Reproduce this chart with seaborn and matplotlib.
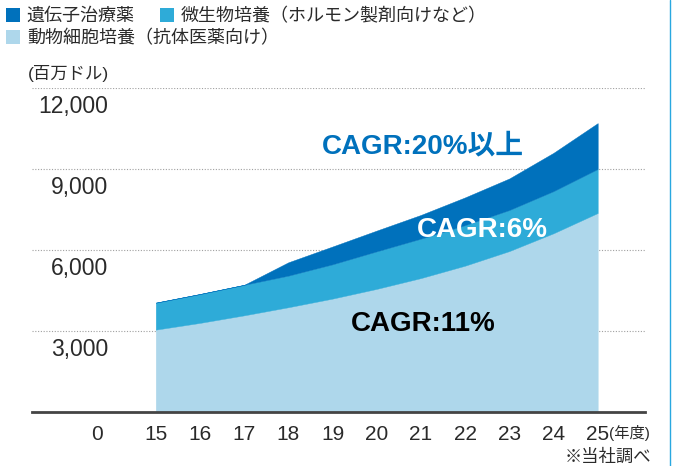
import matplotlib
matplotlib.use('Agg')
import matplotlib.pyplot as plt
import seaborn as sns
import pandas as pd
from matplotlib.transforms import ScaledTranslation
from matplotlib.patches import Patch
from matplotlib.lines import Line2D

# ---- data ----
years = [15, 16, 17, 18, 19, 20, 21, 22, 23, 24, 25]
animal_cell = [3050, 3300, 3580, 3880, 4200, 4560, 4960, 5420, 5960, 6620, 7370]
microbial = [1000, 1070, 1130, 1170, 1270, 1390, 1460, 1500, 1520, 1560, 1630]
gene_therapy = [0, 0, 0, 495, 660, 770, 880, 1030, 1170, 1420, 1700]
series_labels = ['遺伝子治療薬', '微生物培養（ホルモン製剤向けなど）', '動物細胞培養（抗体医薬向け）']
ytick_values = [3000, 6000, 9000, 12000]
ytick_labels = ['3,000', '6,000', '9,000', '12,000']
zero_label_pos = 13.67
xtick_labels = ['0'] + [str(y) for y in years]
cagr_labels = ['CAGR:20%以上', 'CAGR:6%', 'CAGR:11%']
unit_label = '(百万ドル)'
year_unit = '(年度)'
source_note = '※当社調べ'

c_dark = '#0071BC'
c_mid = '#2EABD8'
c_light = '#AED7EB'

sns.set_theme(style='white')
plt.rcParams['font.family'] = ['Liberation Sans', 'Noto Sans CJK JP']

df = pd.DataFrame({'year': years, 'animal': animal_cell,
                   'microbial': microbial, 'gene': gene_therapy})

fig = plt.figure(figsize=(6.84, 4.66), dpi=100)
ax = fig.add_axes([32 / 684, 1 - 412 / 466, (645 - 32) / 684, (412 - 88) / 466])

ax.stackplot(df['year'], df['animal'], df['microbial'], df['gene'],
             colors=[c_light, c_mid, c_dark], edgecolor='face', linewidth=0.3, zorder=2)

ax.set_xlim(12.20, 26.07)
ax.set_ylim(0, 12000)

ax.yaxis.grid(True, linestyle=(0, (1, 1.5)), color='#a0a0a0', linewidth=0.8, zorder=0)
ax.xaxis.grid(False)
ax.set_axisbelow(True)
for s in ['top', 'right', 'left']:
    ax.spines[s].set_visible(False)
ax.spines['bottom'].set_color('#444444')
ax.spines['bottom'].set_linewidth(2)
ax.spines['bottom'].set_zorder(5)

ax.set_yticks(ytick_values, ytick_labels)
ax.set_xticks([zero_label_pos] + years, xtick_labels)
ax.tick_params(axis='y', length=0, pad=0, labelsize=16.5, labelcolor='#2a2a2a')
ax.tick_params(axis='x', length=0, pad=9, labelsize=15, labelcolor='#2a2a2a')
for lbl in ax.get_yticklabels():
    lbl.set_transform(lbl.get_transform() + ScaledTranslation(0.76, -0.16, fig.dpi_scale_trans))

# CAGR annotations
ax.text(21.05, 9816, cagr_labels[0], ha='center', va='center', fontsize=20,
        fontweight='bold', color=c_dark, zorder=6)
ax.text(22.40, 6741, cagr_labels[1], ha='center', va='center', fontsize=20,
        fontweight='bold', color='white', zorder=6)
ax.text(21.05, 3260, cagr_labels[2], ha='center', va='center', fontsize=20,
        fontweight='bold', color='black', zorder=6)

fig.text(609 / 684, 1 - 433 / 466, year_unit, ha='left', va='center', fontsize=11, color='#2a2a2a')
fig.text(651 / 684, 1 - 457 / 466, source_note, ha='right', va='center', fontsize=12.5, color='#2a2a2a')
fig.text(28 / 684, 1 - 73 / 466, unit_label, ha='left', va='center', fontsize=12.5, color='#2a2a2a')

# legends
h_dark = Patch(facecolor=c_dark, edgecolor='none')
h_mid = Patch(facecolor=c_mid, edgecolor='none')
h_light = Patch(facecolor=c_light, edgecolor='none')
leg_kw = dict(frameon=False, handlelength=0.75, handleheight=0.75, handletextpad=0.4,
              borderpad=0, borderaxespad=0, fontsize=13, labelcolor='#2a2a2a')
fig.legend([h_dark, h_mid], series_labels[:2], loc='upper left',
           bbox_to_anchor=(6 / 684, 1 - 8 / 466), ncol=2, columnspacing=1.4, **leg_kw)
fig.legend([h_light], series_labels[2:], loc='upper left',
           bbox_to_anchor=(6 / 684, 1 - 30 / 466), **leg_kw)

# frame line on the right
fig.add_artist(Line2D([669.5 / 684, 669.5 / 684], [0, 1], transform=fig.transFigure,
                      color='#29A8E0', linewidth=1))

fig.savefig('out.png', dpi=100)
